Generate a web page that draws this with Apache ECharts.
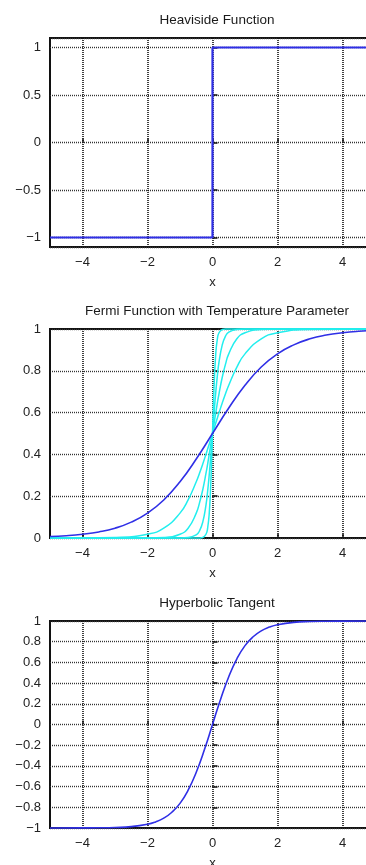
<!DOCTYPE html>
<html>
<head>
<meta charset="utf-8">
<script src="https://cdn.jsdelivr.net/npm/echarts@6/dist/echarts.min.js"></script>
<style>
  html, body { margin: 0; padding: 0; background: #fff; overflow: hidden; }
  /* 右边框在截图范围之外，画布比窗口宽一点 */
  #chart { width: 380px; height: 865px; }
</style>
</head>
<body>
<div id="chart"></div>
<script>
// 数据
const titles = ['Heaviside Function', 'Fermi Function with Temperature Parameter', 'Hyperbolic Tangent']

// Heaviside
const heaviX = [-5, 0, 0, 5]
const heaviY = [-1, -1, 1, 1]

// Fermi, T = 1
const fermiBlueX = [-5, -4.5, -4, -3.5, -3, -2.5, -2, -1.5, -1, -0.5, 0, 0.5, 1, 1.5, 2, 2.5, 3, 3.5, 4, 4.5, 5]
const fermiBlueY = [0.007, 0.011, 0.018, 0.029, 0.047, 0.076, 0.119, 0.182, 0.269, 0.378, 0.5, 0.622, 0.731, 0.818, 0.881, 0.924, 0.953, 0.971, 0.982, 0.989, 0.993]

// Fermi, lower temperatures (cyan)
const fermiX = [-5, -3, -2, -1.5, -1, -0.75, -0.5, -0.4, -0.3, -0.2, -0.15, -0.1, -0.05, -0.025, 0,
  0.025, 0.05, 0.1, 0.15, 0.2, 0.3, 0.4, 0.5, 0.75, 1, 1.5, 2, 3, 5]
const fermiT050 = [0, 0.0025, 0.018, 0.047, 0.119, 0.182, 0.269, 0.310, 0.354, 0.401, 0.426, 0.450, 0.475, 0.488, 0.5,
  0.512, 0.525, 0.550, 0.574, 0.599, 0.646, 0.690, 0.731, 0.818, 0.881, 0.953, 0.982, 0.998, 1]
const fermiT025 = [0, 0, 0.0003, 0.0025, 0.018, 0.047, 0.119, 0.168, 0.231, 0.310, 0.354, 0.401, 0.450, 0.475, 0.5,
  0.525, 0.550, 0.599, 0.646, 0.690, 0.769, 0.832, 0.881, 0.953, 0.982, 0.998, 1, 1, 1]
const fermiT012 = [0, 0, 0, 0, 0.0002, 0.0019, 0.015, 0.034, 0.076, 0.159, 0.223, 0.303, 0.397, 0.448, 0.5,
  0.552, 0.603, 0.697, 0.777, 0.841, 0.924, 0.966, 0.985, 0.998, 1, 1, 1, 1, 1]
const fermiT005 = [0, 0, 0, 0, 0, 0, 0, 0.0003, 0.0025, 0.018, 0.047, 0.119, 0.269, 0.378, 0.5,
  0.622, 0.731, 0.881, 0.953, 0.982, 0.998, 1, 1, 1, 1, 1, 1, 1, 1]

// tanh
const tanhX = [-5, -4, -3.5, -3, -2.5, -2, -1.75, -1.5, -1.25, -1, -0.75, -0.5, -0.25, 0,
  0.25, 0.5, 0.75, 1, 1.25, 1.5, 1.75, 2, 2.5, 3, 3.5, 4, 5]
const tanhY = [-1, -0.999, -0.998, -0.995, -0.987, -0.964, -0.941, -0.905, -0.848, -0.762, -0.635, -0.462, -0.245, 0,
  0.245, 0.462, 0.635, 0.762, 0.848, 0.905, 0.941, 0.964, 0.987, 0.995, 0.998, 0.999, 1]

// 坐标轴范围
const xRange = [-5, 5]
const xStep = 2
const yRanges = [[-1.1, 1.1], [0, 1], [-1, 1]]
const ySteps = [0.5, 0.2, 0.2]

const pair = (xs, ys) => xs.map((x, i) => [x, ys[i]])
const fmt = v => String(Math.round(v * 10) / 10).replace('-', '\u2212')

const FONT = '"Liberation Sans", Arial, sans-serif'
const BLUE = '#2f2fe6'
const CYAN = '#22eeee'

// 布局
const gridTops = [38, 329, 621]
const gridHeights = [209, 209, 207]

const chart = echarts.init(document.getElementById('chart'))

const grid = gridTops.map((top, i) => ({
  left: 50,
  top,
  width: 325,
  height: gridHeights[i],
  outerBoundsMode: 'none',
  show: true,
  borderColor: '#111',
  borderWidth: 2,
  backgroundColor: 'transparent'
}))

const xAxis = gridTops.map((_, i) => ({
  type: 'value',
  gridIndex: i,
  min: xRange[0],
  max: xRange[1],
  minInterval: xStep,
  maxInterval: xStep,
  name: 'x',
  nameLocation: 'middle',
  nameGap: 29,
  nameTextStyle: { color: '#222', fontSize: 13, fontFamily: FONT },
  axisLine: { show: false },
  axisTick: { inside: true, length: 4, lineStyle: { color: '#111', width: 1.5 } },
  axisLabel: {
    showMinLabel: false,
    showMaxLabel: false,
    margin: 9,
    color: '#222',
    fontSize: 13,
    fontFamily: FONT,
    formatter: fmt
  },
  splitLine: { show: true, lineStyle: { color: '#111', width: 1.6, type: [1, 1] } }
}))

const yAxis = gridTops.map((_, i) => {
  const ax = {
    type: 'value',
    gridIndex: i,
    min: yRanges[i][0],
    max: yRanges[i][1],
    axisLine: { show: false },
    axisTick: { inside: true, length: 5, lineStyle: { color: '#111', width: 1.5 } },
    axisLabel: {
      margin: 9,
      color: '#222',
      fontSize: 13,
      fontFamily: FONT,
      formatter: fmt
    },
    splitLine: { show: true, lineStyle: { color: '#333', width: 1.4, type: [1, 1] } }
  }
  if (i === 0) {
    // 范围不是步长的倍数，用 min/maxInterval 固定步长
    ax.minInterval = ySteps[i]
    ax.maxInterval = ySteps[i]
    ax.axisLabel.showMinLabel = false
    ax.axisLabel.showMaxLabel = false
  } else {
    ax.interval = ySteps[i]
  }
  return ax
})

const title = titles.map((text, i) => ({
  text,
  left: 212,
  textAlign: 'center',
  top: gridTops[i] - 30,
  textStyle: { color: '#1a1a1a', fontSize: 13.5, fontWeight: 'normal', fontFamily: FONT }
}))

const line = (data, idx, color, width, smooth) => ({
  type: 'line',
  xAxisIndex: idx,
  yAxisIndex: idx,
  data,
  symbol: 'none',
  smooth,
  clip: false,
  lineStyle: { color, width },
  z: 3
})

const series = [
  line(pair(heaviX, heaviY), 0, BLUE, 2.2, false),
  line(pair(fermiX, fermiT050), 1, CYAN, 1.5, true),
  line(pair(fermiX, fermiT025), 1, CYAN, 1.5, true),
  line(pair(fermiX, fermiT012), 1, CYAN, 1.5, true),
  line(pair(fermiX, fermiT005), 1, CYAN, 1.5, true),
  line(pair(fermiBlueX, fermiBlueY), 1, BLUE, 1.6, true),
  line(pair(tanhX, tanhY), 2, BLUE, 1.6, true)
]

const option = {
  animation: false,
  backgroundColor: '#fff',
  title,
  grid,
  xAxis,
  yAxis,
  series
}

chart && chart.setOption(option)
</script>
</body>
</html>
